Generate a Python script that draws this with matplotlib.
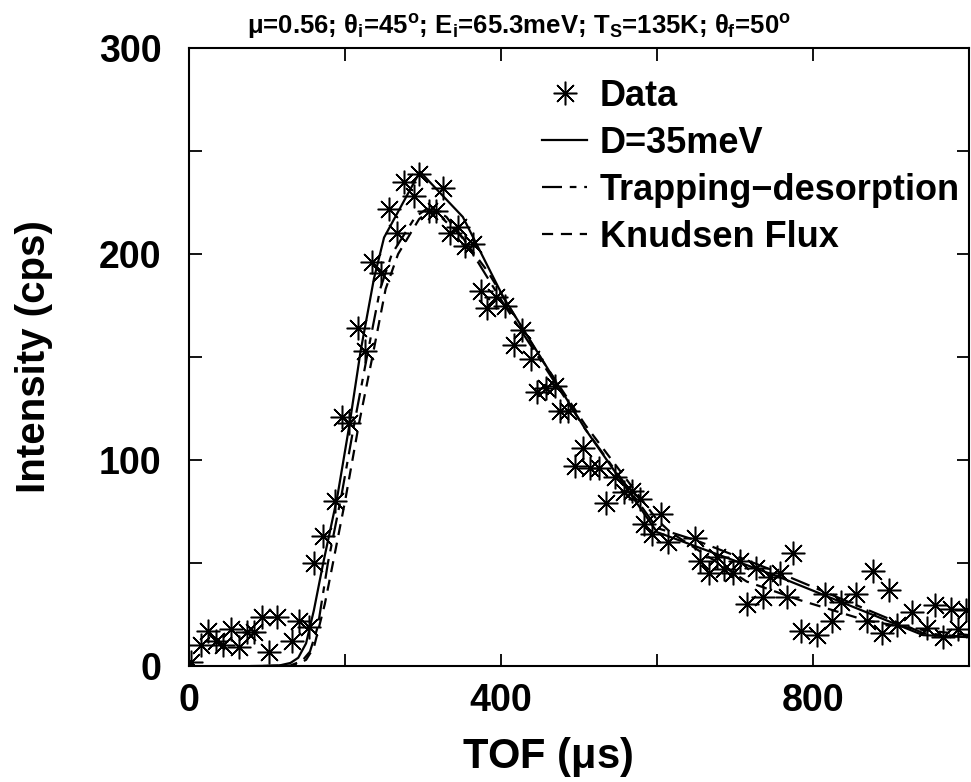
import numpy as np
import matplotlib as mpl
mpl.use("Agg")
import matplotlib.pyplot as plt

mpl.rcParams['font.family'] = ['Liberation Sans', 'DejaVu Sans']
mpl.rcParams['font.weight'] = 'bold'
mpl.rcParams['axes.labelweight'] = 'bold'
mpl.rcParams['mathtext.fontset'] = 'custom'
mpl.rcParams['mathtext.rm'] = 'Liberation Sans:bold'
mpl.rcParams['mathtext.bf'] = 'Liberation Sans:bold'
mpl.rcParams['mathtext.it'] = 'Liberation Sans'

tof_data = [2, 15, 24, 34, 44, 54, 64, 74, 83, 93, 103, 113, 132, 141, 154,
            160, 172, 187, 196, 205, 216, 225, 235, 246, 256, 266, 275, 288,
            295, 307, 316, 326, 335, 345, 354, 364, 374, 382, 393, 405, 417,
            427, 438, 446, 458, 469, 476, 486, 495, 505, 514, 525, 535, 546,
            557, 568, 578, 583, 594, 605, 614, 649, 655, 666, 677, 686, 698,
            706, 715, 727, 736, 745, 758, 766, 774, 785, 805, 815, 824, 836,
            855, 869, 877, 889, 898, 907, 927, 946, 956, 967, 977, 986, 996]
cps_data = [2, 10, 17, 12, 10, 18, 9, 16.5, 16.5, 24, 7, 24, 12, 22, 19,
            50, 63, 80, 121, 118, 164, 153, 196, 191, 222, 210, 235, 228,
            239, 221, 221, 232, 210, 213, 204, 205, 182, 174, 179, 175, 156,
            163, 149, 133, 135, 136, 124, 124, 97, 106, 96, 96, 79, 92,
            84.5, 85, 81, 69, 64, 74, 60, 62, 51, 45, 53, 47, 45,
            51, 30, 47.5, 33.5, 43, 45, 33.5, 55, 17, 15, 35, 22, 31,
            35, 22, 46, 16, 37, 20, 26, 18.5, 29.5, 14, 27.5, 18, 27]

# model curves
tof_d35 = [80, 115, 130, 140, 150, 160, 172, 190, 206, 220, 237, 250, 296,
           351, 403, 508, 600, 758, 941, 1000]
cps_d35 = [0, 0.2, 1.5, 4, 11, 27, 50, 82, 118, 153, 188, 208, 240,
           218, 179, 115, 65, 43, 15, 14]

tof_td = [95, 130, 145, 155, 165, 178, 195, 212, 228, 245, 260, 290, 305,
          320, 351, 403, 508, 600, 650, 758, 941, 1000]
cps_td = [0, 0.3, 2.5, 7, 19, 50, 82, 118, 150, 183, 200, 218, 222,
          219, 208, 176, 115, 67, 61, 45, 16, 14]

tof_kn = [100, 135, 150, 160, 174, 185, 200, 218, 235, 252, 268, 295, 312,
          330, 382, 450, 508, 600, 617, 715, 783, 869, 941, 1000]
cps_kn = [0, 0.3, 3, 9, 30, 51, 80, 118, 150, 183, 200, 217, 222,
          218, 192, 150, 117, 71, 65, 41, 32, 22, 17.5, 15]

fig = plt.figure(figsize=(9.71, 7.82), dpi=100)
ax = fig.add_axes([0.1947, 0.1483, 0.8033, 0.7903])

ax.plot(tof_data, cps_data, linestyle='none', marker=(8, 2, 0), markersize=17,
        markeredgewidth=1.1, color='black', label='Data')
ax.plot(tof_d35, cps_d35, '-', color='black', lw=1.6, label='D=35meV')
ax.plot(tof_td, cps_td, color='black', lw=1.6, dashes=(9, 3.5, 3, 3.5),
        label='Trapping\u2212desorption')
ax.plot(tof_kn, cps_kn, color='black', lw=1.6, dashes=(5, 3.5),
        label='Knudsen Flux')

ax.set_xlim(0, 1000)
ax.set_ylim(0, 300)
ax.set_xticks(np.arange(0, 1001, 200))
ax.set_xticklabels(['0', '', '400', '', '800', ''])
ax.set_yticks(np.arange(0, 301, 50))
ax.set_yticklabels(['0', '', '100', '', '200', '', '300'])
ax.tick_params(axis='both', direction='in', length=9, width=1.3,
               top=True, right=True, labelsize=27)
ax.tick_params(axis='y', pad=20)
ax.tick_params(axis='x', pad=12)
for s in ax.spines.values():
    s.set_linewidth(1.5)

ax.set_xlabel(r'TOF ($\mu$s)', fontsize=30)
ax.xaxis.set_label_coords(0.46, -0.112)
ax.set_ylabel('Intensity (cps)', fontsize=29, labelpad=33)
fig.text(0.5345, 0.966,
         r'$\mu$=0.56; $\theta_\mathbf{i}$=45$^\mathbf{o}$; '
         r'E$_\mathbf{i}$=65.3meV; T$_\mathbf{S}$=135K; '
         r'$\theta_\mathbf{f}$=50$^\mathbf{o}$',
         fontsize=18.5, fontweight='bold', ha='center', va='center')

ax.legend(loc='upper left', bbox_to_anchor=(0.425, 0.985), frameon=False,
          fontsize=26, numpoints=1, handlelength=1.25, handletextpad=0.35,
          labelspacing=0.33, borderaxespad=0.2)

fig.savefig('out.png', dpi=100)
